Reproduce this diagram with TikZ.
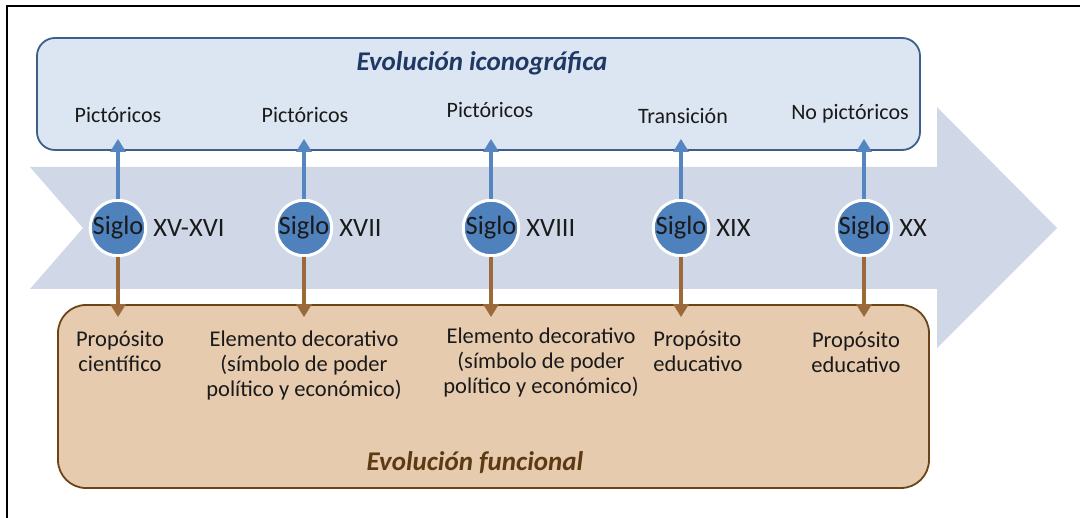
\documentclass[tikz,border=0pt]{standalone}
\usepackage{fontspec}
\setmainfont{Carlito}
\usetikzlibrary{arrows.meta}
\definecolor{topfill}{HTML}{DCE6F2}
\definecolor{topdraw}{HTML}{3D5F8A}
\definecolor{arrowfill}{HTML}{D0D8E8}
\definecolor{cblue}{HTML}{4F81BD}
\definecolor{lblue}{HTML}{5686C2}
\definecolor{lbrown}{HTML}{9C6A3A}
\definecolor{botfill}{HTML}{E7CBAF}
\definecolor{botdraw}{HTML}{6B4518}
\definecolor{titblue}{HTML}{1F3864}
\definecolor{titbrown}{HTML}{5C3A12}
\definecolor{txt}{HTML}{1A1A1A}
\tikzset{
  sigcircle/.style={circle, fill=cblue, draw=white, line width=3pt, minimum size=55pt, inner sep=0pt,
    font=\fontsize{26.5}{28}\selectfont, text=txt},
  sigtext/.style={anchor=west, inner sep=0pt, font=\fontsize{26.5}{28}\selectfont, text=txt},
  toplabel/.style={inner sep=0pt, font=\fontsize{22}{25}\selectfont, text=txt},
  botlabel/.style={inner sep=0pt, align=center, anchor=north, font=\fontsize{22.5}{25}\selectfont, text=txt},
  blueconn/.style={draw=lblue, line width=3.5pt, -{Triangle[width=15pt,length=13pt]}},
  brownconn/.style={draw=lbrown, line width=3.5pt, -{Triangle[width=15pt,length=13pt]}},
  titlestyle/.style={inner sep=0pt, font=\fontsize{27}{30}\selectfont\bfseries\itshape},
}
\begin{document}
\begin{tikzpicture}[x=1pt,y=-1pt]
\useasboundingbox (0,0) rectangle (1080,518);
\fill[white] (0,0) rectangle (1080,518);
% frame
\draw[line width=2pt] (7,518) -- (7,6) -- (1080,6);
% big arrow
\fill[arrowfill] (30,167) -- (937,167) -- (937,107) -- (1057,228) -- (937,348) -- (937,289) -- (30,289) -- (83,228) -- cycle;
% boxes
\node[draw=topdraw, fill=topfill, line width=1.8pt, rounded corners=18pt, minimum width=883pt, minimum height=112pt, inner sep=0pt] (topbox) at (478.5,94) {};
\node[draw=botdraw, fill=botfill, line width=1.8pt, rounded corners=28pt, minimum width=871pt, minimum height=183pt, inner sep=0pt] (botbox) at (493.5,396.5) {};
% titles
\node[titlestyle, text=titblue] (toptitle) at (482,63) {Evolución iconográfica};
\node[titlestyle, text=titbrown] (bottitle) at (475,463) {Evolución funcional};
% top labels
\node[toplabel] (t1) at (118,115) {Pictóricos};
\node[toplabel] (t2) at (305,115) {Pictóricos};
\node[toplabel] (t3) at (490,110) {Pictóricos};
\node[toplabel] (t4) at (683,116) {Transición};
\node[toplabel] (t5) at (850,114) {No pictóricos};
% circles
\node[sigcircle] (c1) at (118,228) {Siglo};
\node[sigcircle] (c2) at (304,228) {Siglo};
\node[sigcircle] (c3) at (491,228) {Siglo};
\node[sigcircle] (c4) at (681,228) {Siglo};
\node[sigcircle] (c5) at (864,228) {Siglo};
\node[sigtext] (s1) at ([xshift=6pt]c1.east) {XV-XVI};
\node[sigtext] (s2) at ([xshift=6pt]c2.east) {XVII};
\node[sigtext] (s3) at ([xshift=6pt]c3.east) {XVIII};
\node[sigtext] (s4) at ([xshift=6pt]c4.east) {XIX};
\node[sigtext] (s5) at ([xshift=6pt]c5.east) {XX};
% bottom labels
\node[botlabel] (b1) at (120,331) {Propósito\\científico};
\node[botlabel] (b2) at (304,331) {Elemento decorativo\\(símbolo de poder\\político y económico)};
\node[botlabel] (b3) at (541,328) {Elemento decorativo\\(símbolo de poder\\político y económico)};
\node[botlabel, align=left] (b4) at (698,331) {Propósito\\educativo};
\node[botlabel] (b5) at (856,332) {Propósito\\educativo};
% connectors
\foreach \c in {c1,c2,c3,c4,c5}{
  \draw[blueconn] (\c) -- ([yshift=12pt]\c |- topbox.south);
  \draw[brownconn] (\c) -- ([yshift=-13pt]\c |- botbox.north);
}
\end{tikzpicture}
\end{document}
